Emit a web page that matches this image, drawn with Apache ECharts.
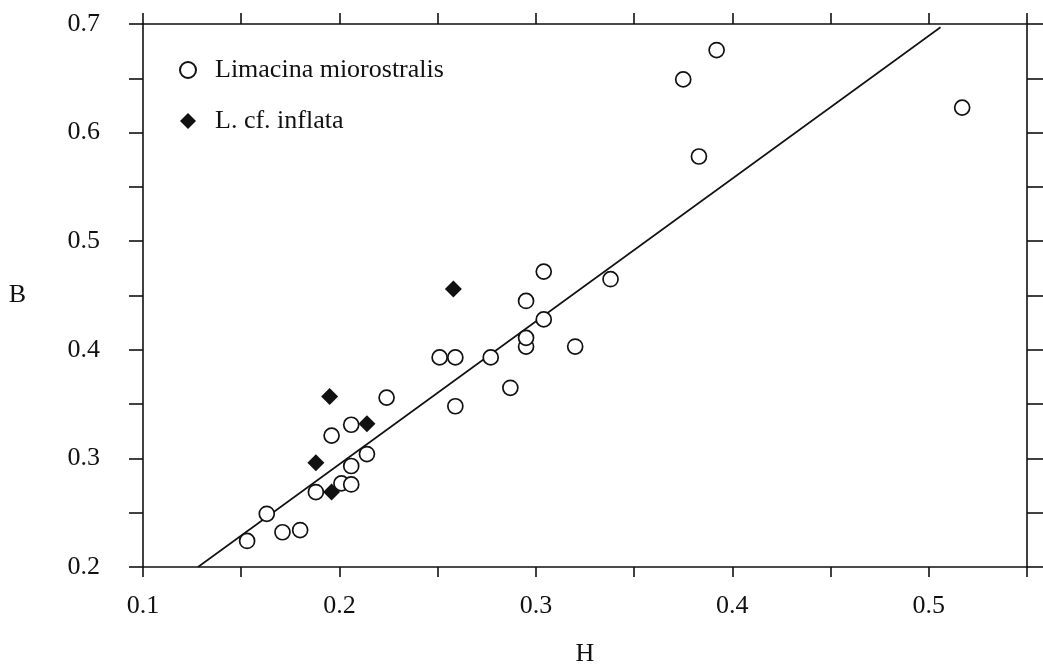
<!DOCTYPE html>
<html lang="en">
<head>
    <meta charset="UTF-8">
    <title>B vs H</title>
    <script src="https://cdn.jsdelivr.net/npm/echarts@6/dist/echarts.min.js"></script>
</head>
<style>
    html, body { margin: 0; padding: 0; background: #fff; }
    #container { width: 1043px; height: 664px; }
</style>
<body>
<div id="container"></div>
<script>
    // data: [H, B]
    var limacinaH = [0.153, 0.163, 0.171, 0.180, 0.188, 0.201, 0.206, 0.206, 0.214, 0.196, 0.206, 0.224,
                     0.251, 0.259, 0.259, 0.277, 0.287, 0.295, 0.295, 0.295, 0.304, 0.304, 0.320, 0.338,
                     0.375, 0.392, 0.383, 0.517];
    var limacinaB = [0.224, 0.249, 0.232, 0.234, 0.269, 0.277, 0.276, 0.293, 0.304, 0.321, 0.331, 0.356,
                     0.393, 0.393, 0.348, 0.393, 0.365, 0.403, 0.411, 0.445, 0.472, 0.428, 0.403, 0.465,
                     0.649, 0.676, 0.578, 0.623];
    var inflataH = [0.195, 0.214, 0.188, 0.196, 0.258];
    var inflataB = [0.357, 0.332, 0.296, 0.269, 0.456];
    // regression line end points
    var fitH = [0.128, 0.506];
    var fitB = [0.200, 0.697];

    var seriesNames = ['Limacina miorostralis', 'L. cf. inflata'];

    function pairs(xs, ys) {
        var out = [];
        for (var i = 0; i < xs.length; i++) {
            out.push([xs[i], ys[i]]);
        }
        return out;
    }

    var font = 'Liberation Serif';
    var ink = '#111';

    var chart = echarts.init(document.getElementById('container'));

    var baseAxis = {
        type: 'value',
        splitLine: { show: false },
        axisLine: { show: true, lineStyle: { color: ink, width: 1.6 } },
        axisTick: { show: true, inside: false, lineStyle: { color: ink, width: 1.6 } }
    };

    function tenths(v) {
        return Math.round(v * 100) % 10 === 0 ? v.toFixed(1) : '';
    }

    var option = {
        animation: false,
        backgroundColor: '#fff',
        grid: { left: 143, right: 16, top: 24, bottom: 97, outerBoundsMode: 'none' },
        legend: {
            orient: 'vertical',
            left: 174,
            top: 52,
            itemWidth: 16,
            itemHeight: 16,
            itemGap: 25,
            data: seriesNames,
            textStyle: { fontFamily: font, fontSize: 26, color: ink, padding: [0, 0, 0, 14] }
        },
        xAxis: [
            echarts.util.merge({
                position: 'bottom',
                min: 0.1, max: 0.55, interval: 0.05,
                name: 'H', nameLocation: 'middle', nameGap: 74,
                nameTextStyle: { fontFamily: font, fontSize: 26, color: ink },
                axisTick: { length: 10 },
                axisLabel: { margin: 26, fontFamily: font, fontSize: 26, color: ink, formatter: tenths }
            }, baseAxis, false),
            echarts.util.merge({
                position: 'top',
                min: 0.1, max: 0.55, interval: 0.05,
                axisTick: { length: 11 },
                axisLabel: { show: false }
            }, baseAxis, false)
        ],
        yAxis: [
            echarts.util.merge({
                position: 'left',
                min: 0.2, max: 0.7, interval: 0.05,
                name: 'B', nameLocation: 'middle', nameGap: 117, nameRotate: 0,
                nameTextStyle: { fontFamily: font, fontSize: 26, color: ink },
                axisTick: { length: 14 },
                axisLabel: { margin: 43, fontFamily: font, fontSize: 26, color: ink, formatter: tenths }
            }, baseAxis, false),
            echarts.util.merge({
                position: 'right',
                min: 0.2, max: 0.7, interval: 0.05,
                axisTick: { length: 16 },
                axisLabel: { show: false }
            }, baseAxis, false)
        ],
        series: [
            {
                name: 'fit',
                type: 'line',
                data: pairs(fitH, fitB),
                symbol: 'none',
                lineStyle: { color: ink, width: 1.6 },
                z: 1
            },
            {
                name: seriesNames[0],
                type: 'scatter',
                data: pairs(limacinaH, limacinaB),
                symbol: 'circle',
                symbolSize: 15,
                itemStyle: { color: '#fff', borderColor: ink, borderWidth: 1.7, opacity: 1 },
                z: 3
            },
            {
                name: seriesNames[1],
                type: 'scatter',
                data: pairs(inflataH, inflataB),
                symbol: 'diamond',
                symbolSize: 17,
                itemStyle: { color: ink, opacity: 1 },
                z: 4
            }
        ]
    };

    chart.setOption(option);
</script>
</body>
</html>
